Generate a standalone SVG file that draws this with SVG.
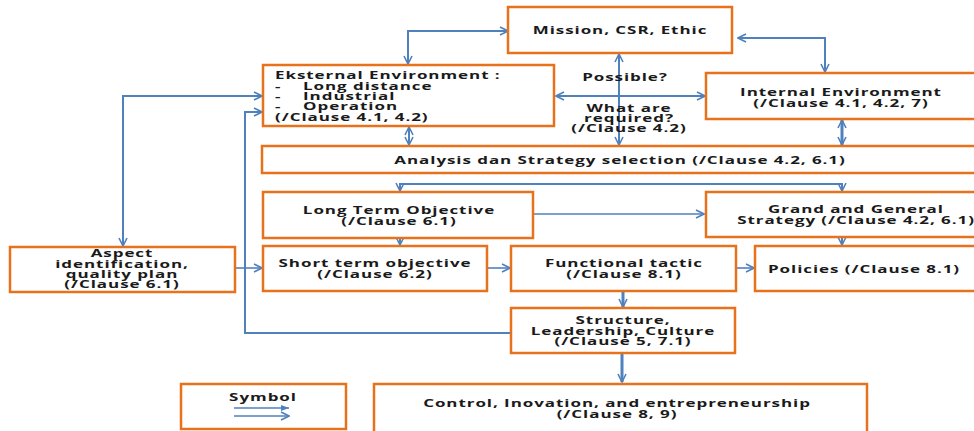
<svg xmlns="http://www.w3.org/2000/svg" width="974" height="431" viewBox="0 0 974 431">
<style>
.box{fill:#fff;stroke:#E8711C;stroke-width:2.5}
.c{fill:none;stroke:#4F81BD;stroke-width:2}
.thin{stroke-width:1.6}
.thick{stroke-width:3}
.t{font-family:"Open Sans",sans-serif;font-weight:bold;font-size:10px;letter-spacing:0.55px;fill:#1a1a1a}
.m{text-anchor:middle}
</style>
<defs>
<marker id="a" viewBox="0 0 10 10" markerWidth="10" markerHeight="10" refX="9" refY="5" orient="auto-start-reverse" markerUnits="userSpaceOnUse">
<path d="M1,1 L9,5 L1,9" fill="none" stroke="#4F81BD" stroke-width="1.6"/>
</marker>
<marker id="f" viewBox="0 0 10 10" markerWidth="10" markerHeight="10" refX="9" refY="5" orient="auto" markerUnits="userSpaceOnUse">
<path d="M1,2 L9,5 L1,8 Z" fill="#4F81BD"/>
</marker>
</defs>
<rect width="974" height="431" fill="#fff"/>
<g id="connectors">
<path class="c" d="M508,31 H408 V64" marker-start="url(#a)" marker-end="url(#a)"/>
<path class="c" d="M738,38 H825 V72" marker-start="url(#a)" marker-end="url(#a)"/>
<path class="c" d="M619,54 V145" marker-start="url(#a)" marker-end="url(#a)"/>
<path class="c" d="M556,96 H705" marker-start="url(#a)" marker-end="url(#a)"/>
<path class="c" d="M409,127 V145" marker-start="url(#a)" marker-end="url(#a)"/>
<path class="c thick" d="M842,120 V145" marker-start="url(#a)" marker-end="url(#a)"/>
<path class="c" d="M400,191 V184 H842 V191" marker-start="url(#a)" marker-end="url(#a)"/>
<path class="c" d="M400,238 V245" marker-end="url(#a)"/>
<path class="c thin" d="M533,214 H704" marker-end="url(#a)"/>
<path class="c" d="M842,237 V245" marker-end="url(#a)"/>
<path class="c thin" d="M235,268 H262" marker-end="url(#a)"/>
<path class="c thin" d="M487,268 H510" marker-end="url(#a)"/>
<path class="c thin" d="M736,268 H754" marker-end="url(#a)"/>
<path class="c thick" d="M623,291 V307" marker-end="url(#a)"/>
<path class="c thick" d="M622,354 V382" marker-end="url(#a)"/>
<path class="c" d="M511,333 H245 V112 H262" marker-end="url(#a)"/>
<path class="c" d="M262,96 H123 V246" marker-start="url(#a)" marker-end="url(#a)"/>
</g>
<g id="mission">
<rect class="box" x="508" y="7" width="224" height="46"/>
<text class="t m" transform="translate(620,34) scale(1.7,1)">Mission, CSR, Ethic</text>
</g>
<g id="labels">
<text class="t m" transform="translate(625,81) scale(1.7,1)">Possible?</text>
<text class="t m" transform="translate(629,112) scale(1.7,1)"><tspan x="0">What are</tspan><tspan x="0" dy="10">required?</tspan><tspan x="0" dy="10">(/Clause 4.2)</tspan></text>
</g>
<g id="eksternal">
<rect class="box" x="263" y="65" width="291" height="61"/>
<text class="t" transform="translate(275,79) scale(1.7,1)"><tspan x="0">Eksternal Environment :</tspan><tspan x="0" dy="10.5">-</tspan><tspan x="16.5">Long distance</tspan><tspan x="0" dy="10.5">-</tspan><tspan x="16.5">Industrial</tspan><tspan x="0" dy="10.5">-</tspan><tspan x="16.5">Operation</tspan><tspan x="0" dy="10.5">(/Clause 4.1, 4.2)</tspan></text>
</g>
<g id="internal">
<rect class="box" x="706" y="73" width="272" height="46"/>
<text class="t m" transform="translate(841,96) scale(1.7,1)"><tspan x="0">Internal Environment</tspan><tspan x="0" dy="10.5">(/Clause 4.1, 4.2, 7)</tspan></text>
</g>
<g id="analysis">
<rect class="box" x="262" y="146" width="716" height="27"/>
<text class="t m" transform="translate(620,164) scale(1.7,1)">Analysis dan Strategy selection (/Clause 4.2, 6.1)</text>
</g>
<g id="longterm">
<rect class="box" x="263" y="192" width="270" height="46"/>
<text class="t m" transform="translate(399,214) scale(1.7,1)"><tspan x="0">Long Term Objective</tspan><tspan x="0" dy="10.5">(/Clause 6.1)</tspan></text>
</g>
<g id="grand">
<rect class="box" x="706" y="192" width="272" height="45"/>
<text class="t m" transform="translate(856,213) scale(1.7,1)"><tspan x="0">Grand and General</tspan><tspan x="0" dy="10.5">Strategy (/Clause 4.2, 6.1)</tspan></text>
</g>
<g id="aspect">
<rect class="box" x="10" y="247" width="225" height="45"/>
<text class="t m" transform="translate(122,257) scale(1.7,1)"><tspan x="0">Aspect</tspan><tspan x="0" dy="10.5">identification,</tspan><tspan x="0" dy="10.5">quality plan</tspan><tspan x="0" dy="10.5">(/Clause 6.1)</tspan></text>
</g>
<g id="shortterm">
<rect class="box" x="263" y="246" width="224" height="45"/>
<text class="t m" transform="translate(375,267) scale(1.7,1)"><tspan x="0">Short term objective</tspan><tspan x="0" dy="10.5">(/Clause 6.2)</tspan></text>
</g>
<g id="functional">
<rect class="box" x="511" y="246" width="225" height="45"/>
<text class="t m" transform="translate(624,267) scale(1.7,1)"><tspan x="0">Functional tactic</tspan><tspan x="0" dy="10.5">(/Clause 8.1)</tspan></text>
</g>
<g id="policies">
<rect class="box" x="755" y="246" width="223" height="45"/>
<text class="t m" transform="translate(864,273) scale(1.7,1)">Policies (/Clause 8.1)</text>
</g>
<g id="structure">
<rect class="box" x="511" y="308" width="224" height="45"/>
<text class="t m" transform="translate(623,324) scale(1.7,1)"><tspan x="0">Structure,</tspan><tspan x="0" dy="10.5">Leadership, Culture</tspan><tspan x="0" dy="10.5">(/Clause 5, 7.1)</tspan></text>
</g>
<g id="symbol">
<rect class="box" x="181" y="384" width="165" height="45"/>
<text class="t m" transform="translate(263,401) scale(1.7,1)">Symbol</text>
<path class="c thin" d="M234,408 H289" marker-end="url(#f)"/>
<path class="c thin" d="M234,416 H289" marker-end="url(#a)"/>
</g>
<g id="control">
<rect class="box" x="374" y="384" width="493" height="55"/>
<text class="t m" transform="translate(617,407) scale(1.7,1)"><tspan x="0">Control, Inovation, and entrepreneurship</tspan><tspan x="0" dy="10.5">(/Clause 8, 9)</tspan></text>
</g>
</svg>
